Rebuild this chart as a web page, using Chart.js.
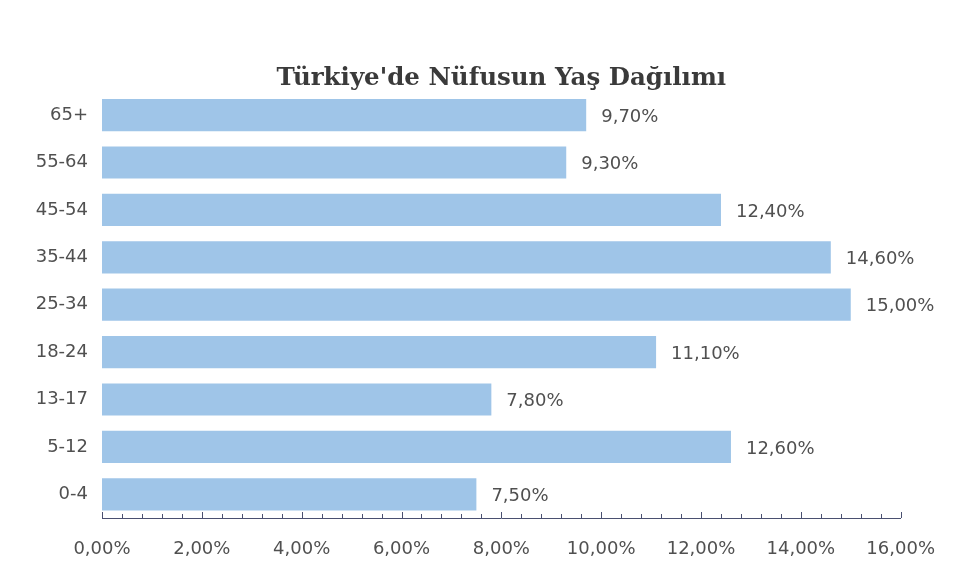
<!DOCTYPE html>
<html>
<head>
<meta charset="utf-8">
<script src="https://cdn.jsdelivr.net/npm/chart.js@4/dist/chart.umd.min.js"></script>
<style>
  html, body { margin: 0; padding: 0; background: #fff; }
  #wrap { width: 956px; height: 570px; }
</style>
</head>
<body>
<div id="wrap"><canvas id="yasChart" width="956" height="570"></canvas></div>
<script>
// age groups, top to bottom as in the picture
var ageGroups = ['65+', '55-64', '45-54', '35-44', '25-34', '18-24', '13-17', '5-12', '0-4'];
var shares = [9.7, 9.3, 12.4, 14.6, 15.0, 11.1, 7.8, 12.6, 7.5];
var axisMin = 0, axisMax = 16, majorStep = 2, minorStep = 0.4;

var textGrey = '#505050';

function pct(v) {
    return v.toFixed(2).replace('.', ',') + '%';
}

// value labels at the end of each bar
var barLabels = {
    id: 'barLabels',
    afterDatasetsDraw: function (chart) {
        var ctx = chart.ctx;
        var meta = chart.getDatasetMeta(0);
        ctx.save();
        ctx.font = '18px "DejaVu Sans"';
        ctx.fillStyle = textGrey;
        ctx.textBaseline = 'middle';
        ctx.textAlign = 'left';
        meta.data.forEach(function (bar, i) {
            ctx.fillText(pct(shares[i]), bar.x + 15, bar.y + 2);
        });
        ctx.restore();
    }
};

// small ticks pointing up from the value axis
var upTicks = {
    id: 'upTicks',
    afterDraw: function (chart) {
        var ctx = chart.ctx;
        var x = chart.scales.x;
        var base = chart.chartArea.bottom;
        ctx.save();
        ctx.strokeStyle = '#4a5070';
        ctx.lineWidth = 1;
        var n = Math.round((axisMax - axisMin) / minorStep);
        for (var i = 0; i <= n; i++) {
            var v = axisMin + i * minorStep;
            var px = Math.round(x.getPixelForValue(v)) + 0.5;
            var major = Math.abs(v / majorStep - Math.round(v / majorStep)) < 1e-6;
            ctx.beginPath();
            ctx.moveTo(px, base);
            ctx.lineTo(px, base - (major ? 6 : 4));
            ctx.stroke();
        }
        ctx.restore();
    }
};

new Chart(document.getElementById('yasChart'), {
    type: 'bar',
    data: {
        labels: ageGroups,
        datasets: [{
            data: shares,
            backgroundColor: '#9fc5e8',
            borderWidth: 0,
            categoryPercentage: 1,
            barPercentage: 0.68,
            clip: false
        }]
    },
    options: {
        indexAxis: 'y',
        responsive: false,
        animation: false,
        layout: { padding: { left: 0, right: 54, top: 0, bottom: 0 } },
        plugins: {
            legend: { display: false },
            tooltip: { enabled: false },
            title: {
                display: true,
                fullSize: false,
                text: "Türkiye'de Nüfusun Yaş Dağılımı",
                color: '#3a3a3a',
                font: { family: '"DejaVu Serif"', size: 24.5, weight: 'bold', lineHeight: 1.2 },
                padding: { top: 64, bottom: -2 }
            }
        },
        scales: {
            x: {
                min: axisMin,
                max: axisMax,
                grid: { display: false, drawTicks: false },
                border: { display: true, color: '#4a5070', width: 1 },
                ticks: {
                    stepSize: majorStep,
                    padding: 21,
                    color: textGrey,
                    font: { family: '"DejaVu Sans"', size: 18 },
                    maxRotation: 0,
                    callback: function (v) { return pct(v); }
                },
                afterFit: function (scale) { scale.height = 52; }
            },
            y: {
                grid: { display: false, drawTicks: false },
                border: { display: false },
                ticks: {
                    padding: 14,
                    color: textGrey,
                    font: { family: '"DejaVu Sans"', size: 18 }
                },
                afterFit: function (scale) { scale.width = 102; }
            }
        }
    },
    plugins: [barLabels, upTicks]
});
</script>
</body>
</html>
